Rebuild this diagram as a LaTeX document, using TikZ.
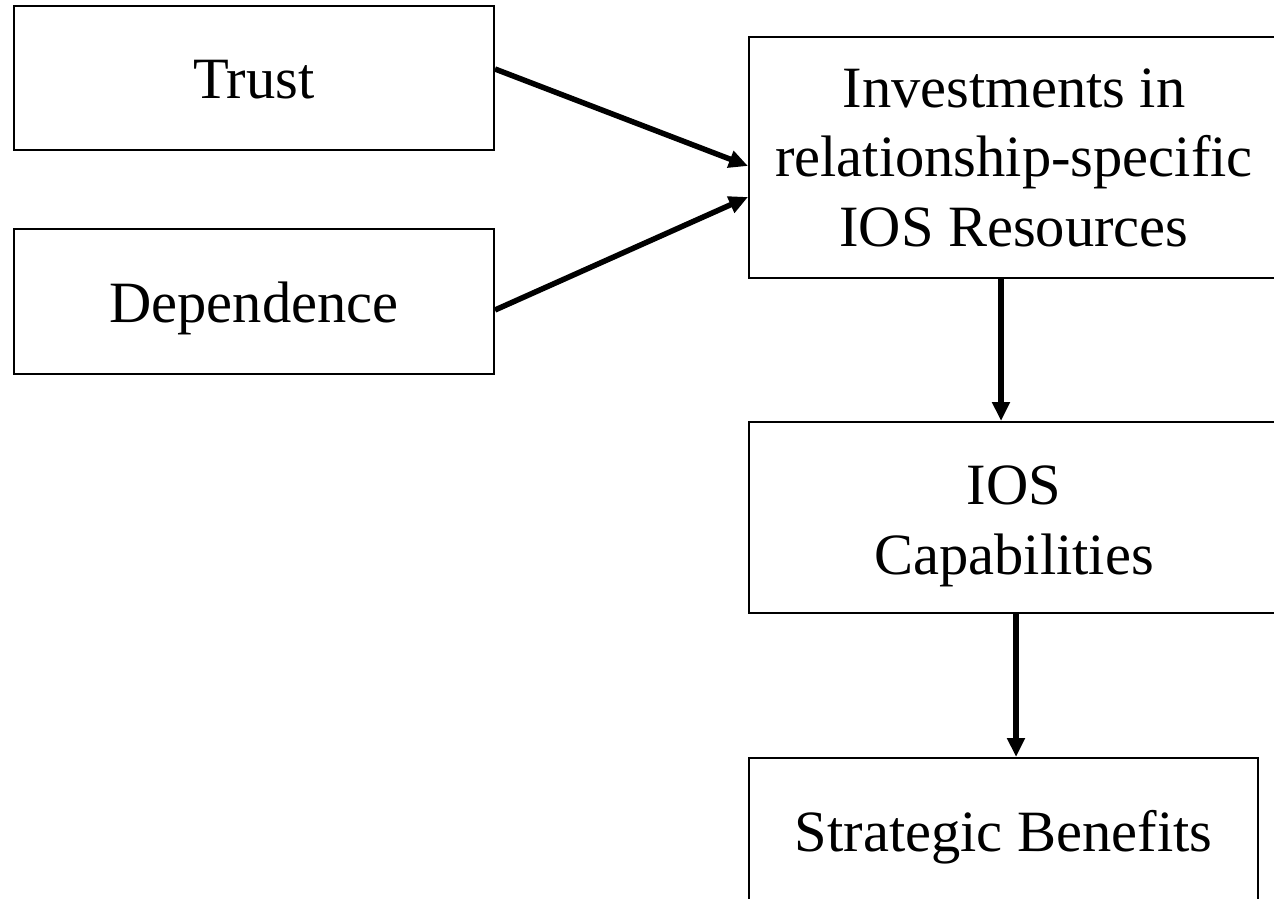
\documentclass[tikz,border=0pt]{standalone}
\usepackage{fontspec}
\setmainfont{Liberation Serif}
\usetikzlibrary{arrows.meta}
\tikzset{
  construct/.style={draw, line width=2pt, align=center, inner sep=0pt,
    text depth=0pt, font=\fontsize{58.5}{69.5}\selectfont},
  link/.style={line width=5.5pt, -{Triangle[length=19pt,width=17pt]}}
}
\begin{document}
\begin{tikzpicture}[x=1pt, y=-1pt]
      \useasboundingbox (0,0) rectangle (1274,899);
      \node[construct, minimum width=480pt, minimum height=144pt, text height=42pt] (trust) at (254,78) {Trust};
      \node[construct, minimum width=480pt, minimum height=145pt, text height=41pt] (depend) at (254,301.5) {Dependence};
      \node[construct, minimum width=530pt, minimum height=241pt, text height=177pt] (invest) at (1014,157.5) {Investments in\\relationship-specific\\IOS Resources};
      \node[construct, minimum width=530pt, minimum height=191pt, text height=113pt] (caps) at (1014,517.5) {IOS\\Capabilities};
      \node[construct, minimum width=509pt, minimum height=152pt, text height=35pt] (benefit) at (1003.5,834) {Strategic Benefits};
      \draw[link] ([yshift=9pt]trust.east) -- ([yshift=-8.5pt]invest.west);
      \draw[link] ([yshift=-8.5pt]depend.east) -- ([yshift=-39.5pt]invest.west);
      \draw[link] ([xshift=-13pt]invest.south) -- ([xshift=-13pt]invest.south |- caps.north);
      \draw[link] ([xshift=2pt]caps.south) -- ([xshift=2pt]caps.south |- benefit.north);
    \end{tikzpicture}
\end{document}
